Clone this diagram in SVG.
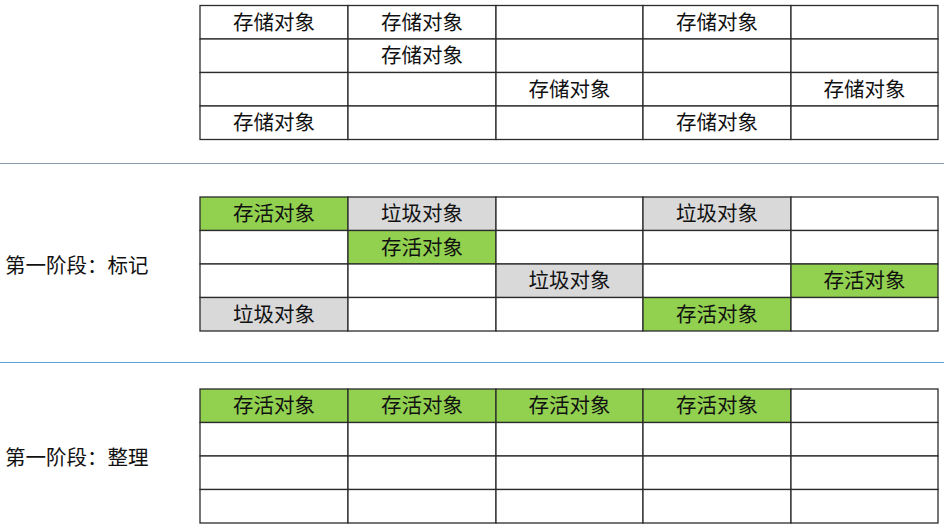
<svg xmlns="http://www.w3.org/2000/svg" width="944" height="530" viewBox="0 0 944 530">
<style>
.c{stroke:#2b2b2b;stroke-width:1.3;fill:#fff}
.g{fill:#92D050}
.y{fill:#D9D9D9}
text{font-family:"Noto Sans CJK SC","Liberation Serif",serif;font-size:20.5px;fill:#111;text-anchor:middle;dominant-baseline:central}
.lbl{text-anchor:start}
</style>
<rect width="944" height="530" fill="#fff"/>
<g id="grid1">
<g class="c">
<rect x="200" y="5.5" width="148" height="33.5"/><rect x="348" y="5.5" width="148" height="33.5"/><rect x="496" y="5.5" width="147" height="33.5"/><rect x="643" y="5.5" width="148" height="33.5"/><rect x="791" y="5.5" width="147" height="33.5"/>
<rect x="200" y="39" width="148" height="33.5"/><rect x="348" y="39" width="148" height="33.5"/><rect x="496" y="39" width="147" height="33.5"/><rect x="643" y="39" width="148" height="33.5"/><rect x="791" y="39" width="147" height="33.5"/>
<rect x="200" y="72.5" width="148" height="33.5"/><rect x="348" y="72.5" width="148" height="33.5"/><rect x="496" y="72.5" width="147" height="33.5"/><rect x="643" y="72.5" width="148" height="33.5"/><rect x="791" y="72.5" width="147" height="33.5"/>
<rect x="200" y="106" width="148" height="33.5"/><rect x="348" y="106" width="148" height="33.5"/><rect x="496" y="106" width="147" height="33.5"/><rect x="643" y="106" width="148" height="33.5"/><rect x="791" y="106" width="147" height="33.5"/>
</g>
<text x="274" y="20.5">存储对象</text><text x="422" y="20.5">存储对象</text><text x="717" y="20.5">存储对象</text>
<text x="422" y="54">存储对象</text>
<text x="569.5" y="87.5">存储对象</text><text x="864.5" y="87.5">存储对象</text>
<text x="274" y="121">存储对象</text><text x="717" y="121">存储对象</text>
</g>
<g id="separators">
<line x1="0" y1="163.5" x2="944" y2="163.5" stroke="#8a9fb5" stroke-width="1.2"/>
<line x1="0" y1="362.5" x2="944" y2="362.5" stroke="#5aa2dc" stroke-width="1.2"/>
</g>
<g id="label-mark"><text class="lbl" x="5" y="264">第一阶段：标记</text></g>
<g id="grid2">
<g class="c">
<rect x="200" y="197" width="148" height="33.5" class="c g"/><rect x="348" y="197" width="148" height="33.5" class="c y"/><rect x="496" y="197" width="147" height="33.5"/><rect x="643" y="197" width="148" height="33.5" class="c y"/><rect x="791" y="197" width="147" height="33.5"/>
<rect x="200" y="230.5" width="148" height="33.5"/><rect x="348" y="230.5" width="148" height="33.5" class="c g"/><rect x="496" y="230.5" width="147" height="33.5"/><rect x="643" y="230.5" width="148" height="33.5"/><rect x="791" y="230.5" width="147" height="33.5"/>
<rect x="200" y="264" width="148" height="33.5"/><rect x="348" y="264" width="148" height="33.5"/><rect x="496" y="264" width="147" height="33.5" class="c y"/><rect x="643" y="264" width="148" height="33.5"/><rect x="791" y="264" width="147" height="33.5" class="c g"/>
<rect x="200" y="297.5" width="148" height="33.5" class="c y"/><rect x="348" y="297.5" width="148" height="33.5"/><rect x="496" y="297.5" width="147" height="33.5"/><rect x="643" y="297.5" width="148" height="33.5" class="c g"/><rect x="791" y="297.5" width="147" height="33.5"/>
</g>
<text x="274" y="212">存活对象</text><text x="422" y="212">垃圾对象</text><text x="717" y="212">垃圾对象</text>
<text x="422" y="245.5">存活对象</text>
<text x="569.5" y="279">垃圾对象</text><text x="864.5" y="279">存活对象</text>
<text x="274" y="312.5">垃圾对象</text><text x="717" y="312.5">存活对象</text>
</g>
<g id="label-compact"><text class="lbl" x="5" y="456">第一阶段：整理</text></g>
<g id="grid3">
<g class="c">
<rect x="200" y="389" width="148" height="33.5" class="c g"/><rect x="348" y="389" width="148" height="33.5" class="c g"/><rect x="496" y="389" width="147" height="33.5" class="c g"/><rect x="643" y="389" width="148" height="33.5" class="c g"/><rect x="791" y="389" width="147" height="33.5"/>
<rect x="200" y="422.5" width="148" height="33.5"/><rect x="348" y="422.5" width="148" height="33.5"/><rect x="496" y="422.5" width="147" height="33.5"/><rect x="643" y="422.5" width="148" height="33.5"/><rect x="791" y="422.5" width="147" height="33.5"/>
<rect x="200" y="456" width="148" height="33.5"/><rect x="348" y="456" width="148" height="33.5"/><rect x="496" y="456" width="147" height="33.5"/><rect x="643" y="456" width="148" height="33.5"/><rect x="791" y="456" width="147" height="33.5"/>
<rect x="200" y="489.5" width="148" height="33.5"/><rect x="348" y="489.5" width="148" height="33.5"/><rect x="496" y="489.5" width="147" height="33.5"/><rect x="643" y="489.5" width="148" height="33.5"/><rect x="791" y="489.5" width="147" height="33.5"/>
</g>
<text x="274" y="404">存活对象</text><text x="422" y="404">存活对象</text><text x="569.5" y="404">存活对象</text><text x="717" y="404">存活对象</text>
</g>
</svg>
